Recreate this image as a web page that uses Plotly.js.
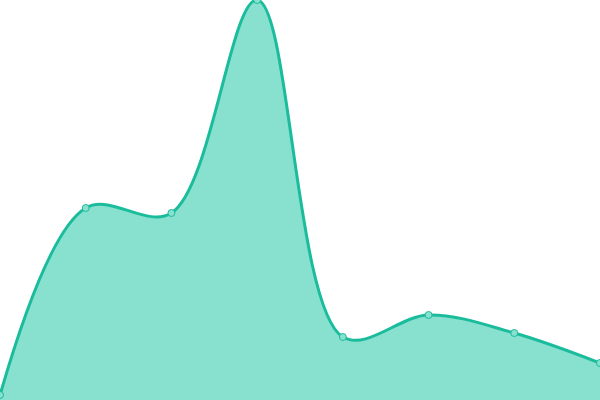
<!DOCTYPE html>
<html>
<head>
<meta charset="utf-8">
<script src="https://cdn.plot.ly/plotly-3.0.1.min.js"></script>
<style>html,body{margin:0;padding:0;background:#fff}#chart{width:600px;height:400px}</style>
</head>
<body>
<div id="chart"></div>
<script>
var xs = [0, 1, 2, 3, 4, 5, 6, 7];
var values = [5, 192, 187, 400, 63, 85, 67, 37];

var trace = {
  x: xs,
  y: values,
  type: 'scatter',
  mode: 'lines+markers',
  fill: 'tozeroy',
  fillcolor: '#88e0cf',
  line: {shape: 'spline', smoothing: 1, color: '#1abc9c', width: 3},
  marker: {size: 7, color: '#88e0cf', line: {color: '#1abc9c', width: 1}},
  cliponaxis: false,
  hoverinfo: 'none'
};

var layout = {
  width: 600,
  height: 400,
  margin: {l: 0, r: 0, t: 0, b: 0},
  showlegend: false,
  paper_bgcolor: '#fff',
  plot_bgcolor: '#fff',
  xaxis: {range: [0, 7], visible: false, fixedrange: true},
  yaxis: {range: [0, 400], visible: false, fixedrange: true}
};

Plotly.newPlot('chart', [trace], layout, {staticPlot: true});
</script>
</body>
</html>
